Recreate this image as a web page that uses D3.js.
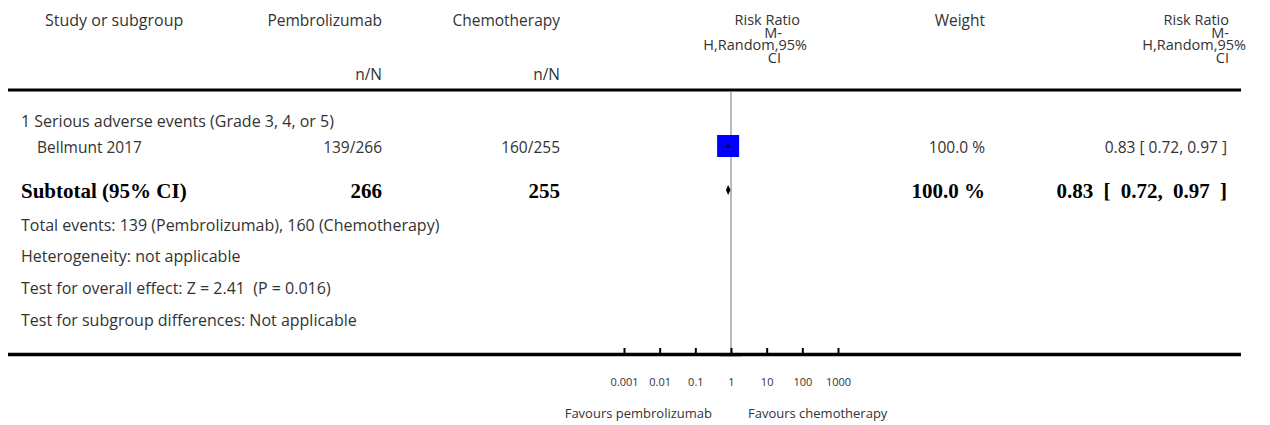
<!DOCTYPE html>
<html>
<head>
<meta charset="utf-8">
<script src="https://cdn.jsdelivr.net/npm/d3@7"></script>
<style>
  body { margin: 0; background: #fff; }
  text { font-family: "Open Sans", Lato, sans-serif; fill: #333; }
  .bold { font-family: "Liberation Serif", serif; font-weight: bold; fill: #000; }
</style>
</head>
<body>
<div id="forest"></div>
<script>
var svgWidth = 1270;
var svgHeight = 425;

// data
var studies = ["Bellmunt 2017"];
var pembroEvents = [139];
var pembroTotal = [266];
var chemoEvents = [160];
var chemoTotal = [255];
var riskRatio = [0.83];
var ciLow = [0.72];
var ciHigh = [0.97];
var weights = [100.0];

var subtotalRR = 0.83, subtotalLow = 0.72, subtotalHigh = 0.97;
var tickValues = [0.001, 0.01, 0.1, 1, 10, 100, 1000];
var tickLabels = ["0.001", "0.01", "0.1", "1", "10", "100", "1000"];

var footLines = [
  "Total events: 139 (Pembrolizumab), 160 (Chemotherapy)",
  "Heterogeneity: not applicable",
  "Test for overall effect: Z = 2.41  (P = 0.016)",
  "Test for subgroup differences: Not applicable"
];

var svg = d3.select("#forest")
  .append("svg")
  .attr("width", svgWidth)
  .attr("height", svgHeight);

var x = d3.scaleLog()
  .domain([0.001, 1000])
  .range([624, 838]);

var fmt = d3.format(".2f");

// header
var hdr = svg.append("g").style("font-size", "15.5px");
hdr.append("text").attr("x", 45).attr("y", 26).style("font-size", "16px").text("Study or subgroup");
hdr.append("text").attr("x", 382).attr("y", 26).attr("text-anchor", "end").text("Pembrolizumab");
hdr.append("text").attr("x", 560).attr("y", 26).attr("text-anchor", "end").text("Chemotherapy");
hdr.append("text").attr("x", 382).attr("y", 80).attr("text-anchor", "end").text("n/N");
hdr.append("text").attr("x", 560).attr("y", 80).attr("text-anchor", "end").text("n/N");
hdr.append("text").attr("x", 985).attr("y", 26).attr("text-anchor", "end").text("Weight");

// risk ratio headers, four tight lines each
var rrLeft = [["Risk Ratio", 800, 25], ["M-", 782, 37.5], ["H,Random,95%", 807, 50], ["CI", 781, 62.5]];
rrLeft.forEach(function(d) {
  hdr.append("text").attr("x", d[1]).attr("y", d[2]).attr("text-anchor", "end")
    .style("font-size", "14.5px").text(d[0]);
});
var rrRight = [["Risk Ratio", 1229, 25], ["M-", 1229, 37.5], ["H,Random,95%", 1246, 50], ["CI", 1229, 62.5]];
rrRight.forEach(function(d) {
  hdr.append("text").attr("x", d[1]).attr("y", d[2]).attr("text-anchor", "end")
    .style("font-size", "14.5px").text(d[0]);
});

// top rule
svg.append("line")
  .attr("x1", 8).attr("x2", 1241)
  .attr("y1", 90).attr("y2", 90)
  .attr("stroke", "#000").attr("stroke-width", 3);

// line of no effect
svg.append("line")
  .attr("x1", x(1)).attr("x2", x(1))
  .attr("y1", 92).attr("y2", 353)
  .attr("stroke", "#bbb").attr("stroke-width", 2);

var body = svg.append("g").style("font-size", "16px");
body.append("text").attr("x", 21).attr("y", 127).text("1 Serious adverse events (Grade 3, 4, or 5)");

var rowY = [153];
studies.forEach(function(s, i) {
  var y = rowY[i];
  var row = body.append("g").style("font-size", "15.5px");
  row.append("text").attr("x", 37).attr("y", y).text(s);
  row.append("text").attr("x", 382).attr("y", y).attr("text-anchor", "end").text(pembroEvents[i] + "/" + pembroTotal[i]);
  row.append("text").attr("x", 560).attr("y", y).attr("text-anchor", "end").text(chemoEvents[i] + "/" + chemoTotal[i]);
  row.append("text").attr("x", 985).attr("y", y).attr("text-anchor", "end").text(weights[i].toFixed(1) + " %");
  row.append("text").attr("x", 1227).attr("y", y).attr("text-anchor", "end")
    .text(fmt(riskRatio[i]) + " [ " + fmt(ciLow[i]) + ", " + fmt(ciHigh[i]) + " ]");
});

// study squares + CI
svg.selectAll("rect.study")
  .data(riskRatio)
  .enter()
  .append("rect")
  .attr("class", "study")
  .attr("x", d => x(d) - 11)
  .attr("y", (d, i) => rowY[i] - 18)
  .attr("width", 22)
  .attr("height", 22)
  .attr("fill", "#0000ff");

svg.selectAll("line.ci")
  .data(riskRatio)
  .enter()
  .append("line")
  .attr("class", "ci")
  .attr("x1", (d, i) => x(ciLow[i]))
  .attr("x2", (d, i) => x(ciHigh[i]))
  .attr("y1", (d, i) => rowY[i] - 7)
  .attr("y2", (d, i) => rowY[i] - 7)
  .attr("stroke", "#000").attr("stroke-width", 1);

svg.selectAll("line.pt")
  .data(riskRatio)
  .enter()
  .append("line")
  .attr("class", "pt")
  .attr("x1", d => x(d)).attr("x2", d => x(d))
  .attr("y1", (d, i) => rowY[i] - 9)
  .attr("y2", (d, i) => rowY[i] - 5)
  .attr("stroke", "#000").attr("stroke-width", 1);

// subtotal
var subY = 198;
var sub = svg.append("g").style("font-size", "21px");
sub.append("text").attr("class", "bold").attr("x", 21).attr("y", subY).text("Subtotal (95% CI)");
sub.append("text").attr("class", "bold").attr("x", 382).attr("y", subY).attr("text-anchor", "end").text(d3.sum(pembroTotal));
sub.append("text").attr("class", "bold").attr("x", 560).attr("y", subY).attr("text-anchor", "end").text(d3.sum(chemoTotal));
sub.append("text").attr("class", "bold").attr("x", 985).attr("y", subY).attr("text-anchor", "end").text(d3.sum(weights).toFixed(1) + " %");
sub.append("text").attr("class", "bold").attr("x", 1227).attr("y", subY).attr("text-anchor", "end")
  .style("word-spacing", "5px")
  .text(fmt(subtotalRR) + " [ " + fmt(subtotalLow) + ", " + fmt(subtotalHigh) + " ]");

var dy = 190;
svg.append("polygon")
  .attr("points", [
    [x(subtotalLow), dy], [x(subtotalRR), dy - 5],
    [x(subtotalHigh), dy], [x(subtotalRR), dy + 5]
  ].map(p => p.join(",")).join(" "))
  .attr("fill", "#000");

// footnotes
var footY = [231, 262, 294, 326];
body.selectAll("text.foot")
  .data(footLines)
  .enter()
  .append("text")
  .attr("class", "foot")
  .attr("x", 21)
  .attr("y", (d, i) => footY[i])
  .style("white-space", "pre")
  .text(d => d);

// bottom rule + axis
svg.append("line")
  .attr("x1", 8).attr("x2", 1241)
  .attr("y1", 354.5).attr("y2", 354.5)
  .attr("stroke", "#000").attr("stroke-width", 3.5);

svg.append("line")
  .attr("x1", 720).attr("x2", 742)
  .attr("y1", 356.5).attr("y2", 356.5)
  .attr("stroke", "#999").attr("stroke-width", 1);

var bottomAxis = d3.axisBottom(x)
  .tickValues(tickValues)
  .tickFormat((d, i) => tickLabels[i])
  .tickSizeInner(-6)
  .tickSizeOuter(0)
  .tickPadding(24);

var axisG = svg.append("g")
  .attr("transform", "translate(0, 354)")
  .call(bottomAxis);
axisG.select(".domain").remove();
axisG.selectAll(".tick line").attr("stroke", "#000").attr("stroke-width", 2);
axisG.selectAll(".tick text")
  .style("font-family", "'Open Sans', sans-serif")
  .style("font-size", "11px")
  .attr("fill", "#333");

svg.append("text").attr("x", 712).attr("y", 418).attr("text-anchor", "end")
  .style("font-size", "13px").text("Favours pembrolizumab");
svg.append("text").attr("x", 748).attr("y", 418)
  .style("font-size", "13px").text("Favours chemotherapy");
</script>
</body>
</html>
